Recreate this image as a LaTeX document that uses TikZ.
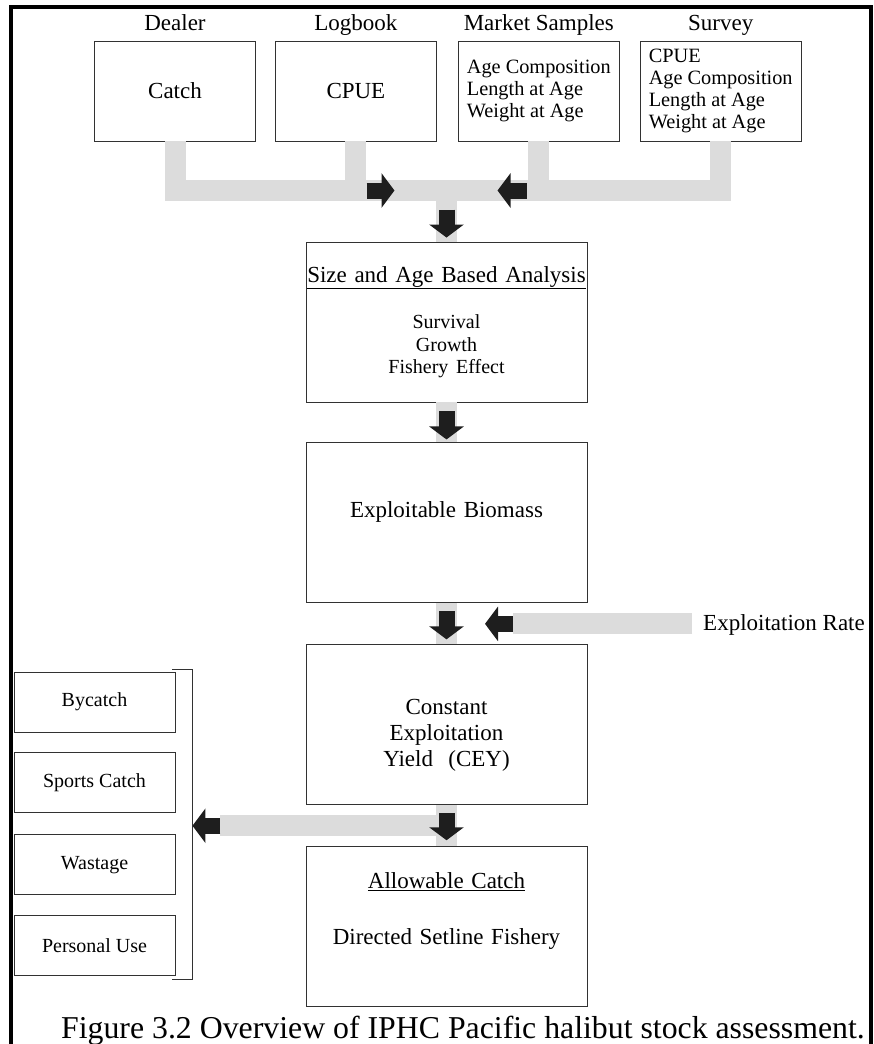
\documentclass[tikz,border=0pt]{standalone}
\usepackage{fontspec}
\setmainfont{Liberation Serif}
\usetikzlibrary{positioning, arrows.meta, calc}
\definecolor{pipegray}{RGB}{220,220,220}
\definecolor{boxline}{RGB}{50,50,50}
\definecolor{tipblack}{RGB}{30,30,30}

\begin{document}
\begin{tikzpicture}[x=1pt, y=-1pt, node distance=20pt]
    \tikzstyle{box}=[draw=boxline, line width=0.9pt, inner sep=0pt, align=center, font=\fontsize{23}{26}\selectfont]
    \tikzstyle{src}=[box, minimum width=161pt, minimum height=100pt]
    \tikzstyle{list}=[box, align=left, minimum width=161pt, minimum height=100pt, font=\fontsize{20.3}{21.7}\selectfont]
    \tikzstyle{stage}=[box, text width=281pt, minimum height=160pt]
    \tikzstyle{side}=[box, minimum width=161pt, minimum height=60pt, font=\fontsize{20}{22}\selectfont]
    \tikzstyle{head}=[inner sep=0pt, text height=16pt, text depth=6pt, font=\fontsize{23}{26}\selectfont]
    \tikzstyle{pipe}=[line width=21pt, pipegray, line join=miter]
    \tikzstyle{blk}=[line width=16pt, tipblack, -{Triangle[width=34pt, length=13pt]}]

    \useasboundingbox (0,0) rectangle (874,1044);
    \draw[line width=3.5pt] (11,1050) -- (11,7) -- (871,7) -- (871,1050);

    % data sources
    \node[src]   (catch) at (175,91) {Catch};
    \node[src]   (cpue) [right=19pt of catch] {CPUE};
    \node[list]  (market) [right=21pt of cpue] {Age Composition\\Length at Age\\Weight at Age};
    \node[list]  (survey) [right=20pt of market] {CPUE\\Age Composition\\Length at Age\\Weight at Age};

    \node[head]  (dealer) [above=3.5pt of catch] {Dealer};
    \node[head]  (logbook) [above=3.5pt of cpue] {Logbook};
    \node[head]  (samples) [above=3.5pt of market] {Market Samples};
    \node[head]  (srv) [above=3.5pt of survey] {Survey};

    % assessment chain
    \node[stage] (size) at (446.5,322) {\underline{Size and Age Based Analysis}\\[24pt]{\fontsize{20}{22.5}\selectfont Survival\\Growth\\Fishery Effect\par}};
    \node[stage] (expl) [below=40pt of size] {Exploitable Biomass\rule[-26pt]{0pt}{26pt}};
    \node[stage] (cey) [below=41pt of expl] {\rule{0pt}{36pt}Constant\\Exploitation\\Yield\ \ (CEY)};
    \node[stage] (allow) [below=41pt of cey] {\underline{Allowable Catch}\\[30pt]Directed Setline Fishery\rule[-37pt]{0pt}{37pt}};

    \node[head, anchor=west] (rate) at (703,625) {Exploitation Rate};

    % other removals
    \node[side]  (bycatch) at (94.5,702) {Bycatch};
    \node[side]  (sports) [below=20pt of bycatch] {Sports Catch};
    \node[side]  (wastage) [below=21pt of sports] {Wastage};
    \node[side]  (personal) [below=20pt of wastage] {Personal Use};

    \node[inner sep=0pt, anchor=base, font=\fontsize{31.8}{36}\selectfont] (caption) at (463,1038) {Figure 3.2 Overview of IPHC Pacific halibut stock assessment.};

    \coordinate (bus) at (446.5,190.5);
    \coordinate (ratetip) at ($(expl.south)!0.5!(cey.north)+(38.5,0)$);
    \coordinate (ratein) at ($(rate.west |- ratetip)+(-11,0)$);
    \coordinate (split) at ($(cey.south)!0.5!(allow.north)$);
    \coordinate (brk) at ($(sports.east |- split)+(17,0)$);

    % gray pipes
    \draw[pipe] (catch.south) |- (survey.south |- bus) -- (survey.south);
    \draw[pipe] (cpue.south) -- (cpue.south |- bus);
    \draw[pipe] (market.south) -- (market.south |- bus);
    \draw[pipe] (bus) -- (size.north);
    \draw[pipe] (size.south) -- (expl.north);
    \draw[pipe] (expl.south) -- (cey.north);
    \draw[pipe] (ratein) -- ($(ratetip)+(28,0)$);
    \draw[pipe] (cey.south) -- (allow.north);
    \draw[pipe] (split) -- ($(brk)+(28,0)$);

    % black arrows
    \draw[blk] ([xshift=-80pt]bus) -- ([xshift=-52pt]bus);
    \draw[blk] ([xshift=80pt]bus) -- ([xshift=51pt]bus);
    \draw[blk] ([yshift=-19pt]bus) -- ([yshift=4pt]size.north);
    \draw[blk] ([yshift=-9pt]size.south) -- ([yshift=3pt]expl.north);
    \draw[blk] ([yshift=-8pt]expl.south) -- ([yshift=5pt]cey.north);
    \draw[blk] ($(ratetip)+(28,0)$) -- (ratetip);
    \draw[blk] ([yshift=-8pt]cey.south) -- ([yshift=6pt]allow.north);
    \draw[blk] ($(brk)+(28,0)$) -- (brk);

    % bracket
    \draw[boxline, line width=0.9pt] ($(bycatch.north east)+(-3,-2)$) -| (brk) |- ($(personal.south east)+(-3,3)$);
\end{tikzpicture}
\end{document}
